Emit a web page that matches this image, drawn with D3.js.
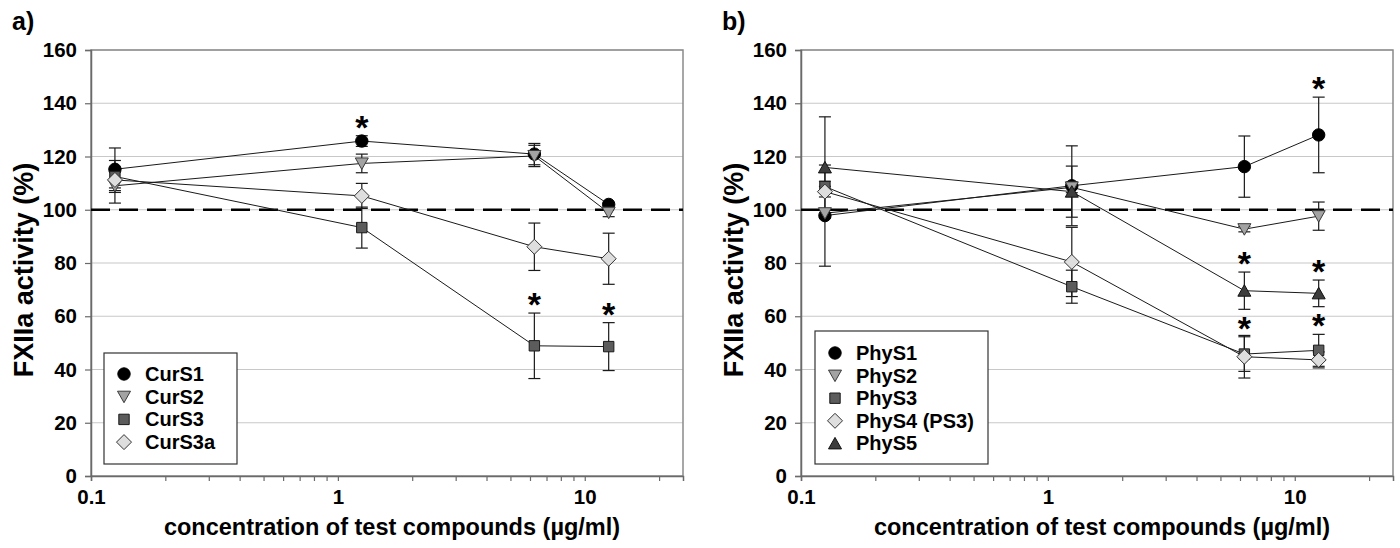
<!DOCTYPE html>
<html><head><meta charset="utf-8">
<script src="https://cdn.jsdelivr.net/npm/d3@7"></script>
<style>
body{margin:0;background:#fff}
text{font-family:"Liberation Sans",Arial,Helvetica,sans-serif;font-weight:bold;fill:#000}
</style>
</head><body>
<svg id="chart" width="1400" height="548"></svg>
<script>
// ---------------- data ----------------
const concentrations = [0.125, 1.25, 6.25, 12.5];
const xTickValues = [0.1, 1, 10];
const xTickLabels = ["0.1", "1", "10"];
const xMinorTicks = [0.2,0.3,0.4,0.5,0.6,0.7,0.8,0.9,2,3,4,5,6,7,8,9,20];
const yTickValues = [0, 20, 40, 60, 80, 100, 120, 140, 160];
const xDomain = [0.1, 25];
const yDomain = [0, 160];
const referenceLevel = 100;
const panelLabels = ["a)", "b)"];
const xTitle = "concentration of test compounds (µg/ml)";
const yTitle = "FXIIa activity (%)";

// panel a
const curNames = ["CurS1", "CurS2", "CurS3", "CurS3a"];
const curS1 = [115.2, 125.8, 120.9, 102.0];
const curS1Err = [8, 2, 4, 0];
const curS2 = [109.0, 117.4, 120.2, 98.9];
const curS2Err = [6.5, 3.5, 4, 1.5];
const curS3 = [112.5, 93.3, 48.9, 48.6];
const curS3Err = [6, 7.7, 12.3, 9];
const curS3a = [111.2, 105.2, 86.1, 81.6];
const curS3aErr = [3, 4.7, 8.9, 9.6];
const curStars = [["CurS1", 1], ["CurS3", 2], ["CurS3", 3]];

// panel b
const phyNames = ["PhyS1", "PhyS2", "PhyS3", "PhyS4 (PS3)", "PhyS5"];
const phyS1 = [97.8, 109.0, 116.2, 128.1];
const phyS1Err = [19, 15, 11.5, 14.2];
const phyS2 = [98.7, 108.4, 92.7, 97.6];
const phyS2Err = [1.5, 2, 1, 5.3];
const phyS3 = [108.7, 71.1, 45.8, 47.2];
const phyS3Err = [2, 6.2, 6.5, 6];
const phyS4 = [106.8, 80.4, 44.8, 43.6];
const phyS4Err = [2, 13, 8, 3];
const phyS5 = [115.9, 106.8, 69.6, 68.6];
const phyS5Err = [19, 9.6, 7, 5];
const phyStars = [["PhyS1", 3], ["PhyS5", 2], ["PhyS5", 3], ["PhyS3", 2], ["PhyS3", 3]];

// ---------------- styles ----------------
const markerStyles = {
  circle:   {fill: "#000000", stroke: "#000000"},
  triDown:  {fill: "#a3a3a3", stroke: "#3a3a3a"},
  square:   {fill: "#5c5c5c", stroke: "#1a1a1a"},
  diamond:  {fill: "#dedede", stroke: "#333333"},
  triUp:    {fill: "#3d3d3d", stroke: "#111111"}
};
function markerPath(type) {
  switch (type) {
    case "circle": return d3.symbol(d3.symbolCircle, Math.PI * 6.2 * 6.2)();
    case "square": return "M-5.2,-5.2H5.2V5.2H-5.2Z";
    case "diamond": return "M0,-7.5L7.5,0L0,7.5L-7.5,0Z";
    case "triDown": return "M-6.5,-5.5L6.5,-5.5L0,6Z";
    case "triUp": return "M-6.5,5.5L6.5,5.5L0,-6Z";
  }
}

const panels = [
  {
    label: panelLabels[0], left: 91, right: 683, labelX: 12, titleX: 33,
    series: [
      {name: curNames[0], values: curS1, errors: curS1Err, marker: "circle"},
      {name: curNames[1], values: curS2, errors: curS2Err, marker: "triDown"},
      {name: curNames[2], values: curS3, errors: curS3Err, marker: "square"},
      {name: curNames[3], values: curS3a, errors: curS3aErr, marker: "diamond"}
    ],
    stars: curStars,
    legend: {x: 104, y: 353, w: 133, h: 111, rowY0: 374, rowStep: 22.7}
  },
  {
    label: panelLabels[1], left: 801, right: 1393, labelX: 722, titleX: 743,
    series: [
      {name: phyNames[0], values: phyS1, errors: phyS1Err, marker: "circle"},
      {name: phyNames[1], values: phyS2, errors: phyS2Err, marker: "triDown"},
      {name: phyNames[2], values: phyS3, errors: phyS3Err, marker: "square"},
      {name: phyNames[3], values: phyS4, errors: phyS4Err, marker: "diamond"},
      {name: phyNames[4], values: phyS5, errors: phyS5Err, marker: "triUp"}
    ],
    stars: phyStars,
    legend: {x: 815, y: 331, w: 173, h: 133, rowY0: 353, rowStep: 22.6}
  }
];

const plotTop = 50, plotBottom = 476;
const svg = d3.select("#chart");

panels.forEach(p => {
  const x = d3.scaleLog().domain(xDomain).range([p.left, p.right]);
  const y = d3.scaleLinear().domain(yDomain).range([plotBottom, plotTop]);
  const g = svg.append("g");

  // gridlines
  g.append("g").selectAll("line").data(yTickValues.filter(v => v > 0))
    .join("line")
    .attr("x1", p.left).attr("x2", p.right)
    .attr("y1", d => y(d)).attr("y2", d => y(d))
    .attr("stroke", "#c8c8c8").attr("stroke-width", 1.2);

  // frame
  g.append("rect").attr("x", p.left).attr("y", plotTop)
    .attr("width", p.right - p.left).attr("height", plotBottom - plotTop)
    .attr("fill", "none").attr("stroke", "#8a8a8a").attr("stroke-width", 1.5);

  // y axis
  const yAxis = d3.axisLeft(y).tickValues(yTickValues).tickSize(6).tickPadding(8).tickFormat(d3.format("d"));
  const ya = g.append("g").attr("transform", `translate(${p.left},0)`).call(yAxis);
  ya.select(".domain").attr("stroke", "#6a6a6a").attr("stroke-width", 1.5);
  ya.selectAll(".tick line").attr("stroke", "#6a6a6a").attr("stroke-width", 1.2);
  ya.selectAll(".tick text").attr("font-size", 20.5).attr("font-family", null).attr("fill", "#000");

  // x axis
  const xAxis = d3.axisBottom(x).tickValues(xTickValues).tickSize(5).tickPadding(8)
    .tickFormat((d, i) => xTickLabels[i]);
  const xa = g.append("g").attr("transform", `translate(0,${plotBottom})`).call(xAxis);
  xa.select(".domain").attr("stroke", "#6a6a6a").attr("stroke-width", 1.5);
  xa.selectAll(".tick line").attr("stroke", "#6a6a6a").attr("stroke-width", 1.2);
  xa.selectAll(".tick text").attr("font-size", 20.5).attr("font-family", null).attr("fill", "#000");
  const xMinor = d3.axisBottom(x).tickValues(xMinorTicks).tickSize(5).tickFormat("");
  const xm = g.append("g").attr("transform", `translate(0,${plotBottom})`).call(xMinor);
  xm.select(".domain").remove();
  xm.selectAll(".tick line").attr("stroke", "#6a6a6a").attr("stroke-width", 1.2);

  // reference dashed line
  g.append("line").attr("x1", p.left).attr("x2", p.right)
    .attr("y1", y(referenceLevel)).attr("y2", y(referenceLevel))
    .attr("stroke", "#000").attr("stroke-width", 2.6).attr("stroke-dasharray", "19,9");

  // connecting lines
  const line = d3.line().x((d, i) => x(concentrations[i])).y(d => y(d));
  p.series.forEach(s => {
    g.append("path").attr("d", line(s.values)).attr("fill", "none")
      .attr("stroke", "#1a1a1a").attr("stroke-width", 1);
  });

  // error bars
  p.series.forEach(s => {
    const eb = g.append("g").attr("stroke", "#1a1a1a").attr("stroke-width", 1.2);
    s.values.forEach((v, i) => {
      const e = s.errors[i];
      if (!e) return;
      const cx = x(concentrations[i]);
      eb.append("line").attr("x1", cx).attr("x2", cx).attr("y1", y(v - e)).attr("y2", y(v + e));
      [v - e, v + e].forEach(t => eb.append("line").attr("x1", cx - 6).attr("x2", cx + 6).attr("y1", y(t)).attr("y2", y(t)));
    });
  });

  // markers
  p.series.forEach(s => {
    const st = markerStyles[s.marker];
    g.append("g").selectAll("path").data(s.values).join("path")
      .attr("d", markerPath(s.marker))
      .attr("transform", (d, i) => `translate(${x(concentrations[i])},${y(d)})`)
      .attr("fill", st.fill).attr("stroke", st.stroke).attr("stroke-width", 1);
  });

  // significance stars
  p.stars.forEach(([name, i]) => {
    const s = p.series.find(q => q.name === name);
    g.append("text").attr("x", x(concentrations[i])).attr("y", y(s.values[i] + s.errors[i]) + 3)
      .attr("text-anchor", "middle").attr("font-size", 34).text("*");
  });

  // legend
  const L = p.legend;
  g.append("rect").attr("x", L.x).attr("y", L.y).attr("width", L.w).attr("height", L.h)
    .attr("fill", "#fff").attr("stroke", "#333").attr("stroke-width", 1.2);
  p.series.forEach((s, k) => {
    const cy = L.rowY0 + k * L.rowStep;
    const st = markerStyles[s.marker];
    g.append("path").attr("d", markerPath(s.marker)).attr("transform", `translate(${L.x + 20},${cy})`)
      .attr("fill", st.fill).attr("stroke", st.stroke).attr("stroke-width", 1);
    g.append("text").attr("x", L.x + 41).attr("y", cy + 7).attr("font-size", 20).text(s.name);
  });

  // titles
  g.append("text").attr("x", (p.left + p.right) / 2 + 5).attr("y", 535)
    .attr("text-anchor", "middle").attr("font-size", 23.5).text(xTitle);
  g.append("text").attr("transform", `translate(${p.titleX},270) rotate(-90)`)
    .attr("text-anchor", "middle").attr("font-size", 27).text(yTitle);
  g.append("text").attr("x", p.labelX).attr("y", 30).attr("font-size", 25).text(p.label);
});
</script>
</body></html>
